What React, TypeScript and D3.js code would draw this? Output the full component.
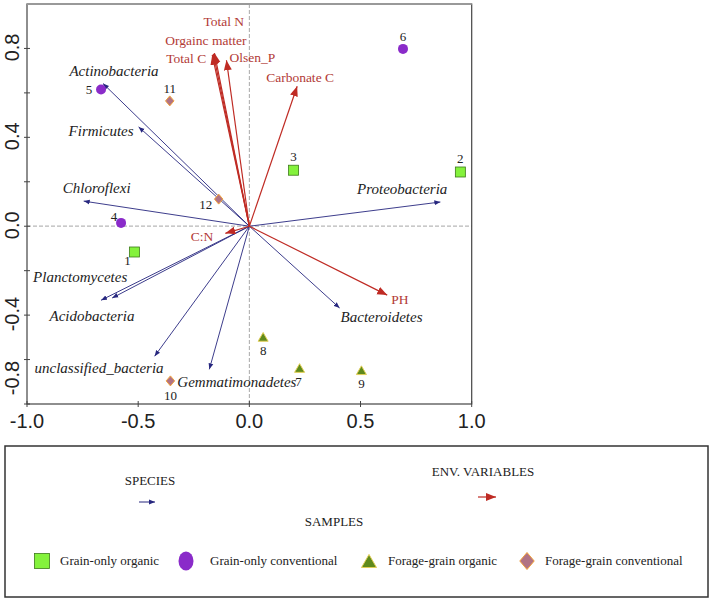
import React from "react";
import * as d3 from "d3";

// species (blue arrows)
const speciesNames = [
  "Actinobacteria",
  "Firmicutes",
  "Chloroflexi",
  "Proteobacteria",
  "Planctomycetes",
  "Acidobacteria",
  "unclassified_bacteria",
  "Gemmatimonadetes",
  "Bacteroidetes",
];
const speciesX = [-0.658, -0.498, -0.745, 0.859, -0.617, -0.667, -0.426, -0.18, 0.406];
const speciesY = [0.642, 0.447, 0.113, 0.109, -0.323, -0.333, -0.585, -0.644, -0.368];

// environmental variables (red arrows)
const envNames = ["Total N", "Orgainc matter", "Total C", "Olsen_P", "Carbonate C", "PH", "C:N"];
const envX = [-0.157, -0.162, -0.167, -0.103, 0.215, 0.62, -0.108];
const envY = [0.779, 0.776, 0.771, 0.747, 0.63, -0.31, -0.032];

// samples
const sampleIds = ["1", "2", "3", "4", "5", "6", "7", "8", "9", "10", "11", "12"];
const sampleX = [-0.517, 0.949, 0.199, -0.577, -0.667, 0.691, 0.226, 0.062, 0.504, -0.355, -0.358, -0.138];
const sampleY = [-0.116, 0.244, 0.252, 0.015, 0.615, 0.798, -0.638, -0.498, -0.648, -0.696, 0.564, 0.122];
const sampleGroup = [0, 0, 0, 1, 1, 1, 2, 2, 2, 3, 3, 3];

const groupNames = [
  "Grain-only organic",
  "Grain-only conventional",
  "Forage-grain organic",
  "Forage-grain conventional",
];

const xTicks = [-1.0, -0.5, 0.0, 0.5, 1.0];
const yTicks = [0.8, 0.6, 0.4, 0.2, 0.0, -0.2, -0.4, -0.6, -0.8];
const yTickLabels = [0.8, 0.4, 0.0, -0.4, -0.8];

// label placement (pixel offsets from tips / markers)
const speciesLabelPos: Record<string, [number, number, string]> = {
  Actinobacteria: [11, -8, "middle"],
  Firmicutes: [-5, 9, "end"],
  Chloroflexi: [13, -8, "middle"],
  Proteobacteria: [7, -8, "end"],
  Planctomycetes: [-32, -16, "middle"],
  Acidobacteria: [-9, 21, "middle"],
  unclassified_bacteria: [9, 17, "end"],
  Gemmatimonadetes: [-32, 18, "start"],
  Bacteroidetes: [1, 14, "start"],
};
const envLabelPos: Record<string, [number, number, string]> = {
  "Total N": [-11, -27, "start"],
  "Orgainc matter": [-48, -9, "start"],
  "Total C": [-6, 8, "end"],
  Olsen_P: [3, 2, "start"],
  "Carbonate C": [-31, -4, "start"],
  PH: [4, 9, "start"],
  "C:N": [-12, 8, "end"],
};
const sampleLabelPos: Record<string, [number, number]> = {
  "1": [-7, 13],
  "2": [0, -9],
  "3": [0, -9],
  "4": [-7, -2],
  "5": [-12, 4],
  "6": [0, -8],
  "7": [-1, 18],
  "8": [0, 18],
  "9": [0, 18],
  "10": [0, 19],
  "11": [0, -8],
  "12": [-13, 10],
};

const BLUE = "#27277f";
const RED = "#bf2b24";
const RED_TXT = "#b23a36";
const SERIF = "'Liberation Serif', 'Times New Roman', serif";
const SANS = "'Liberation Sans', Arial, sans-serif";

function Marker({ g, cx, cy, s }: { g: number; cx: number; cy: number; s: number }) {
  if (g === 0) {
    return (
      <rect x={cx - s / 2} y={cy - s / 2} width={s} height={s} fill="#84f23c" stroke="#3d7a1a" strokeWidth={0.8} />
    );
  }
  if (g === 1) {
    return <ellipse cx={cx} cy={cy} rx={s / 2} ry={s / 2 + (s > 12 ? 2 : 0)} fill="#8a2bc9" />;
  }
  if (g === 2) {
    const h = s * 0.87;
    const pts = [
      [cx, cy - h / 2],
      [cx + s / 2, cy + h / 2],
      [cx - s / 2, cy + h / 2],
    ];
    return <polygon points={pts.map((p) => p.join(",")).join(" ")} fill="#5f8a1c" stroke="#e3cf57" strokeWidth={1} />;
  }
  const r = s / 2;
  const pts = [
    [cx, cy - r],
    [cx + r * 0.85, cy],
    [cx, cy + r],
    [cx - r * 0.85, cy],
  ];
  return <polygon points={pts.map((p) => p.join(",")).join(" ")} fill="#b17384" stroke="#f2a23a" strokeWidth={1} />;
}

export default function App() {
  const width = 712;
  const height = 604;

  const x = d3.scaleLinear().domain([-1, 1]).range([27, 471.7]);
  const y = d3.scaleLinear().domain([1.0, -0.8]).range([4, 404]);

  const x0 = x(0);
  const y0 = y(0);

  return (
    <svg
      width={width}
      height={height}
      style={{ position: "absolute", left: 0, top: 0, background: "#fff" }}
    >
      <defs>
        <marker id="spHead" markerUnits="userSpaceOnUse" markerWidth={8} markerHeight={6} refX={6} refY={3} orient="auto">
          <path d="M0,0.6 L6,3 L0,5.4 Z" fill={BLUE} />
        </marker>
        <marker id="envHead" markerUnits="userSpaceOnUse" markerWidth={12} markerHeight={10} refX={10} refY={4} orient="auto">
          <path d="M0,0 L10,4 L0,8 Z" fill={RED} />
        </marker>
      </defs>

      {/* dashed zero lines */}
      <line x1={x0} x2={x0} y1={y(1)} y2={y(-0.8)} stroke="#a8a8a8" strokeDasharray="4,2" strokeWidth={1} />
      <line x1={x(-1)} x2={x(1)} y1={y0} y2={y0} stroke="#b8b8b8" strokeDasharray="4,2" strokeWidth={1.2} />

      {/* frame */}
      <rect x={x(-1)} y={y(1)} width={x(1) - x(-1)} height={y(-0.8) - y(1)} fill="none" stroke="#444" strokeWidth={1.2} />
      <line x1={x(-1)} x2={x(1)} y1={y(1)} y2={y(1)} stroke="#999" strokeWidth={2} />

      {/* ticks */}
      {xTicks.map((t) => (
        <g key={"xt" + t}>
          <line x1={x(t)} x2={x(t)} y1={y(-0.8) - 3} y2={y(-0.8) + 3} stroke="#444" />
          <text x={x(t)} y={428} textAnchor="middle" fontFamily={SANS} fontSize={20} fill="#222">
            {t.toFixed(1)}
          </text>
        </g>
      ))}
      {yTicks.map((t) => (
        <line key={"yt" + t} x1={x(-1) - 3} x2={x(-1) + 3} y1={y(t)} y2={y(t)} stroke="#444" />
      ))}
      {yTickLabels.map((t) => (
        <text
          key={"yl" + t}
          transform={`translate(18.5, ${y(t) + (t === -0.8 ? -26 : -1)}) rotate(-90)`}
          textAnchor="middle"
          fontFamily={SANS}
          fontSize={20}
          fill="#222"
        >
          {t.toFixed(1)}
        </text>
      ))}

      {/* species arrows */}
      {speciesNames.map((n, i) => (
        <line
          key={"sp" + n}
          x1={x0}
          y1={y0}
          x2={x(speciesX[i])}
          y2={y(speciesY[i])}
          stroke={BLUE}
          strokeWidth={0.9}
          markerEnd="url(#spHead)"
        />
      ))}
      {speciesNames.map((n, i) => {
        const [dx, dy, anchor] = speciesLabelPos[n];
        return (
          <text
            key={"spl" + n}
            x={x(speciesX[i]) + dx}
            y={y(speciesY[i]) + dy}
            textAnchor={anchor as any}
            fontFamily={SERIF}
            fontStyle="italic"
            fontSize={15}
            fill="#222"
          >
            {n}
          </text>
        );
      })}

      {/* env arrows */}
      {envNames.map((n, i) => (
        <line
          key={"env" + n}
          x1={x0}
          y1={y0}
          x2={x(envX[i])}
          y2={y(envY[i])}
          stroke={RED}
          strokeWidth={1.2}
          markerEnd="url(#envHead)"
        />
      ))}
      {envNames.map((n, i) => {
        const [dx, dy, anchor] = envLabelPos[n];
        return (
          <text
            key={"envl" + n}
            x={x(envX[i]) + dx}
            y={y(envY[i]) + dy}
            textAnchor={anchor as any}
            fontFamily={SERIF}
            fontSize={13.5}
            fill={RED_TXT}
          >
            {n}
          </text>
        );
      })}

      {/* samples */}
      {sampleIds.map((id, i) => (
        <Marker key={"m" + id} g={sampleGroup[i]} cx={x(sampleX[i])} cy={y(sampleY[i])} s={10} />
      ))}
      {sampleIds.map((id, i) => {
        const [dx, dy] = sampleLabelPos[id];
        return (
          <text
            key={"ml" + id}
            x={x(sampleX[i]) + dx}
            y={y(sampleY[i]) + dy}
            textAnchor="middle"
            fontFamily={SERIF}
            fontSize={13}
            fill="#222"
          >
            {id}
          </text>
        );
      })}

      {/* legend */}
      <rect x={5} y={446} width={703} height={151} fill="none" stroke="#333" strokeWidth={1.5} />
      <text x={150} y={485} textAnchor="middle" fontFamily={SERIF} fontSize={13} fill="#222">
        SPECIES
      </text>
      <line x1={139} x2={155} y1={502} y2={502} stroke={BLUE} strokeWidth={1} markerEnd="url(#spHead)" />
      <text x={483} y={476} textAnchor="middle" fontFamily={SERIF} fontSize={13} fill="#222">
        ENV. VARIABLES
      </text>
      <line x1={478} x2={496} y1={497} y2={497} stroke={RED} strokeWidth={1.2} markerEnd="url(#envHead)" />
      <text x={334} y={526} textAnchor="middle" fontFamily={SERIF} fontSize={13} fill="#222">
        SAMPLES
      </text>
      {groupNames.map((g, i) => {
        const mx = [42, 186, 369, 527][i];
        const tx = [60, 210, 388, 545][i];
        return (
          <g key={"lg" + g}>
            <Marker g={i} cx={mx} cy={561} s={i === 3 ? 17 : 15} />
            <text x={tx} y={565} fontFamily={SERIF} fontSize={13} fill="#222">
              {g}
            </text>
          </g>
        );
      })}
    </svg>
  );
}
